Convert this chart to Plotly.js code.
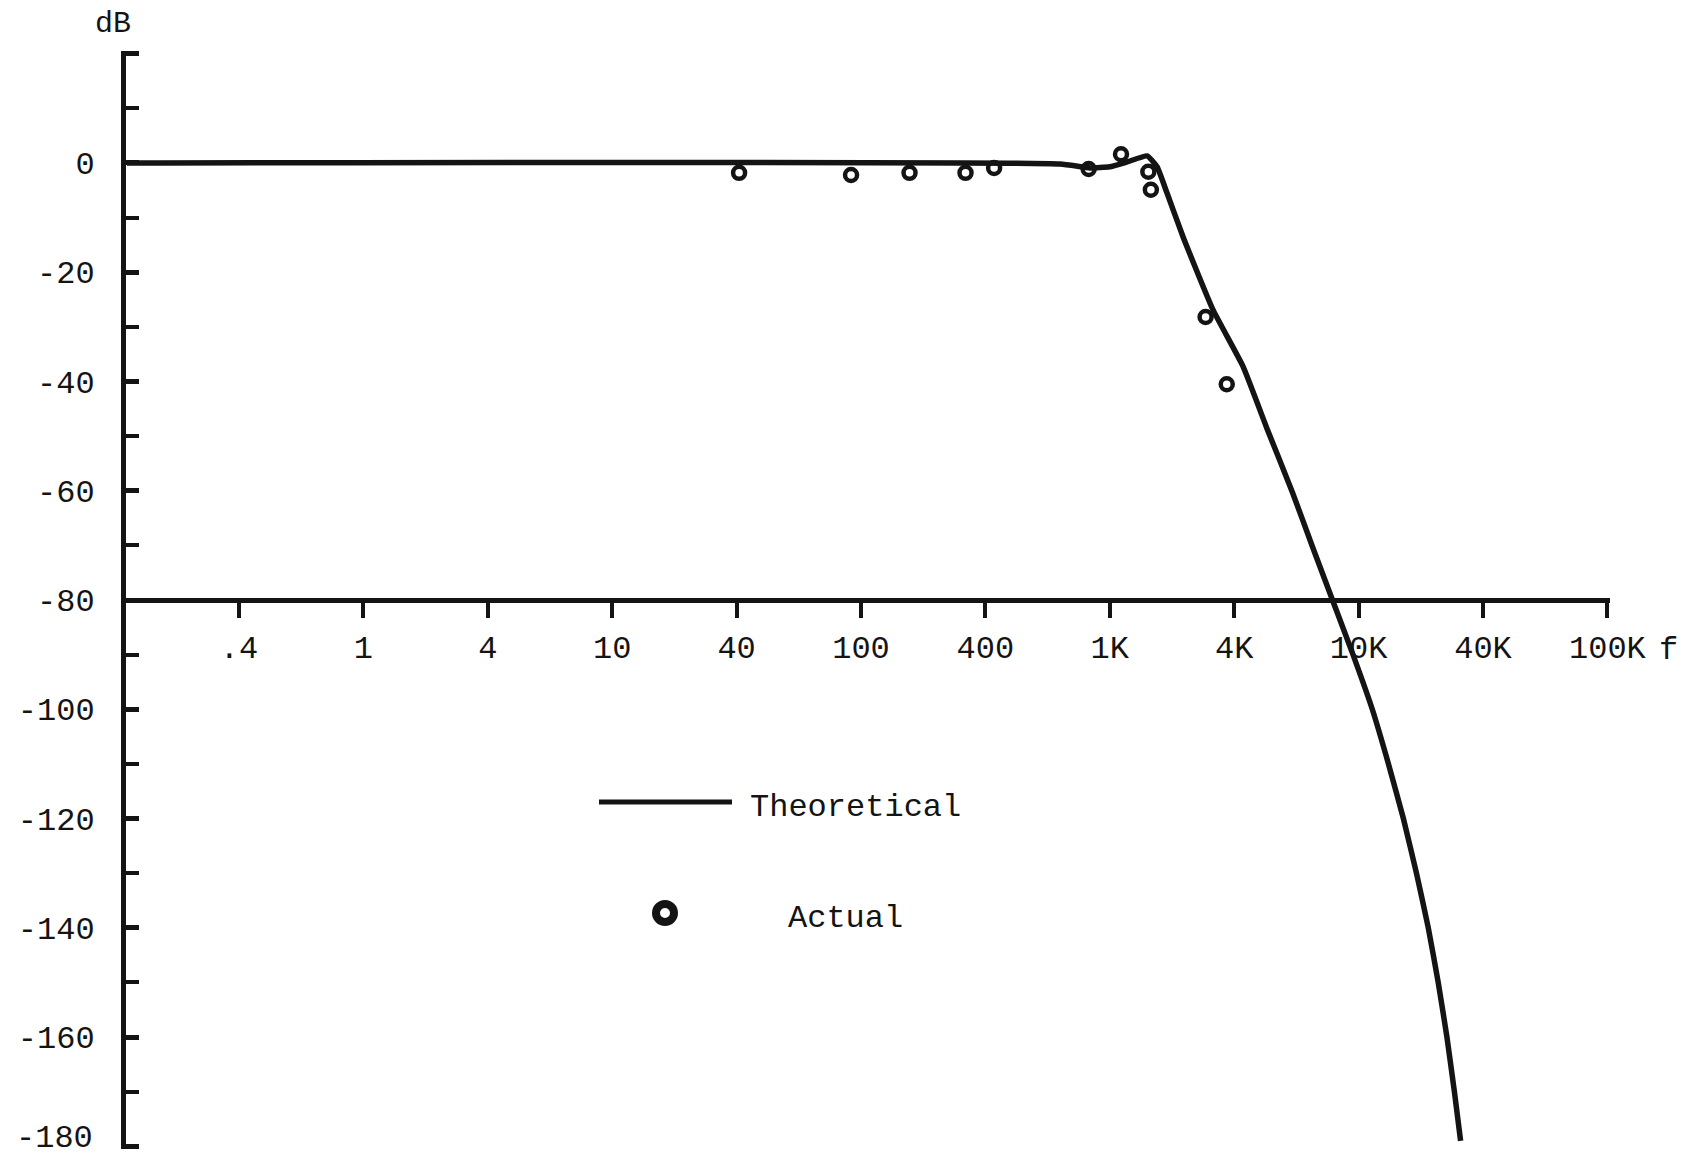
<!DOCTYPE html>
<html>
<head>
<meta charset="utf-8">
<script src="https://cdn.plot.ly/plotly-3.0.1.min.js"></script>
<style>
  html, body { margin: 0; padding: 0; background: #ffffff; }
  #chart { width: 1688px; height: 1157px; }
</style>
</head>
<body>
<div id="chart"></div>
<script>
// Frequency scale (hand-drawn, evenly spaced tick positions)
const freqLabels = ['.4', '1', '4', '10', '40', '100', '400', '1K', '4K', '10K', '40K', '100K'];
const freqTickPos = [0, 1, 2, 3, 4, 5, 6, 7, 8, 9, 10, 11];

// dB scale
const dbTickVals = [20, 0, -20, -40, -60, -80, -100, -120, -140, -160, -180];
const dbTickText = ['', '0', '-20', '-40', '-60', '-80', '-100', '-120', '-140', '-160', '-180'];

// Theoretical response (position on the frequency scale, dB)
const theoryPos = [-0.90, 6.60, 6.84, 7.00, 7.14, 7.30, 7.38, 7.46, 7.59, 7.83, 8.07, 8.26, 8.47, 8.63, 8.79, 8.955, 9.11, 9.24, 9.36, 9.465, 9.56, 9.64, 9.71, 9.77, 9.82];
const theoryDb  = [0, -0.2, -0.9, -0.7, 0.2, 1.3, -0.7, -5.5, -13.6, -26.9, -37.2, -48.4, -60.4, -70.3, -80.0, -90.0, -100.0, -110.0, -120.0, -130.0, -140.0, -150.0, -160.0, -170.0, -179.0];

// Measured (actual) points
const actualPos = [4.02, 4.92, 5.39, 5.84, 6.07, 6.83, 7.09, 7.31, 7.33, 7.77, 7.94];
const actualDb  = [-1.8, -2.2, -1.8, -1.8, -0.9, -1.1, 1.6, -1.6, -4.9, -28.2, -40.5];

const INK = '#141414';
const FONT = 'Liberation Mono, Courier New, monospace';

const traces = [
  {
    x: theoryPos, y: theoryDb, type: 'scatter', mode: 'lines',
    name: 'Theoretical',
    line: { color: INK, width: 5.5, shape: 'spline', smoothing: 0.4 },
    cliponaxis: false, hoverinfo: 'skip'
  },
  {
    x: actualPos, y: actualDb, type: 'scatter', mode: 'markers',
    name: 'Actual',
    marker: { symbol: 'circle-open', size: 12, color: INK, line: { width: 4.5, color: INK } },
    cliponaxis: false, hoverinfo: 'skip'
  }
];

const L = 126, R = 1610, T = 51, B = 1149;
const W = R - L, H = B - T;
const px = v => (v - L) / W;
const py = v => (B - v) / H;

const layout = {
  width: 1688, height: 1157,
  margin: { l: L, r: 1688 - R, t: T, b: 1157 - B },
  paper_bgcolor: '#ffffff', plot_bgcolor: '#ffffff',
  showlegend: false,
  font: { family: FONT, color: INK, size: 32 },
  xaxis: {
    range: [(L - 239) / 124.4, (R - 239) / 124.4],
    anchor: 'free', position: 0.5,
    showgrid: false, zeroline: false,
    showline: true, linewidth: 5, linecolor: INK,
    ticks: 'outside', ticklen: 15, tickwidth: 4, tickcolor: INK,
    tickmode: 'array', tickvals: freqTickPos, ticktext: freqLabels,
    tickfont: { family: FONT, size: 32, color: INK },
    ticklabelstandoff: 2
  },
  yaxis: {
    range: [-180.5, 20.5],
    showgrid: false, zeroline: false,
    showline: true, linewidth: 5, linecolor: INK,
    ticks: 'inside', ticklen: 13, tickwidth: 5, tickcolor: INK,
    tickmode: 'array', tickvals: dbTickVals, ticktext: dbTickText,
    tickfont: { family: FONT, size: 32, color: INK },
    ticklabelstandoff: 20,
    minor: { dtick: 10, tick0: 0, ticks: 'inside', ticklen: 13, tickwidth: 4, tickcolor: INK, showgrid: false }
  },
  shapes: [
    { type: 'line', xref: 'paper', yref: 'paper', x0: px(599), x1: px(732), y0: py(802), y1: py(802),
      line: { color: INK, width: 5 } },
    { type: 'circle', xref: 'paper', yref: 'paper', x0: px(656), x1: px(674), y0: py(922), y1: py(904),
      line: { color: INK, width: 8 } }
  ],
  annotations: [
    { text: dbTickText[dbTickText.length - 1], xref: 'paper', yref: 'y', x: px(95), y: -180, yshift: 8,
      xanchor: 'right', yanchor: 'middle', showarrow: false, font: { family: FONT, size: 32, color: INK } },
    { text: 'dB', xref: 'paper', yref: 'paper', x: px(113), y: py(24), xanchor: 'center', yanchor: 'middle',
      showarrow: false, font: { family: FONT, size: 30, color: INK } },
    { text: 'f', xref: 'paper', yref: 'paper', x: px(1668), y: py(650), xanchor: 'center', yanchor: 'middle',
      showarrow: false, font: { family: FONT, size: 32, color: INK } },
    { text: 'Theoretical', xref: 'paper', yref: 'paper', x: px(748), y: py(807), xanchor: 'left', yanchor: 'middle',
      showarrow: false, font: { family: FONT, size: 32, color: INK } },
    { text: 'Actual', xref: 'paper', yref: 'paper', x: px(786), y: py(918), xanchor: 'left', yanchor: 'middle',
      showarrow: false, font: { family: FONT, size: 32, color: INK } }
  ]
};

Plotly.newPlot('chart', traces, layout, { displayModeBar: false, staticPlot: true });
</script>
</body>
</html>
